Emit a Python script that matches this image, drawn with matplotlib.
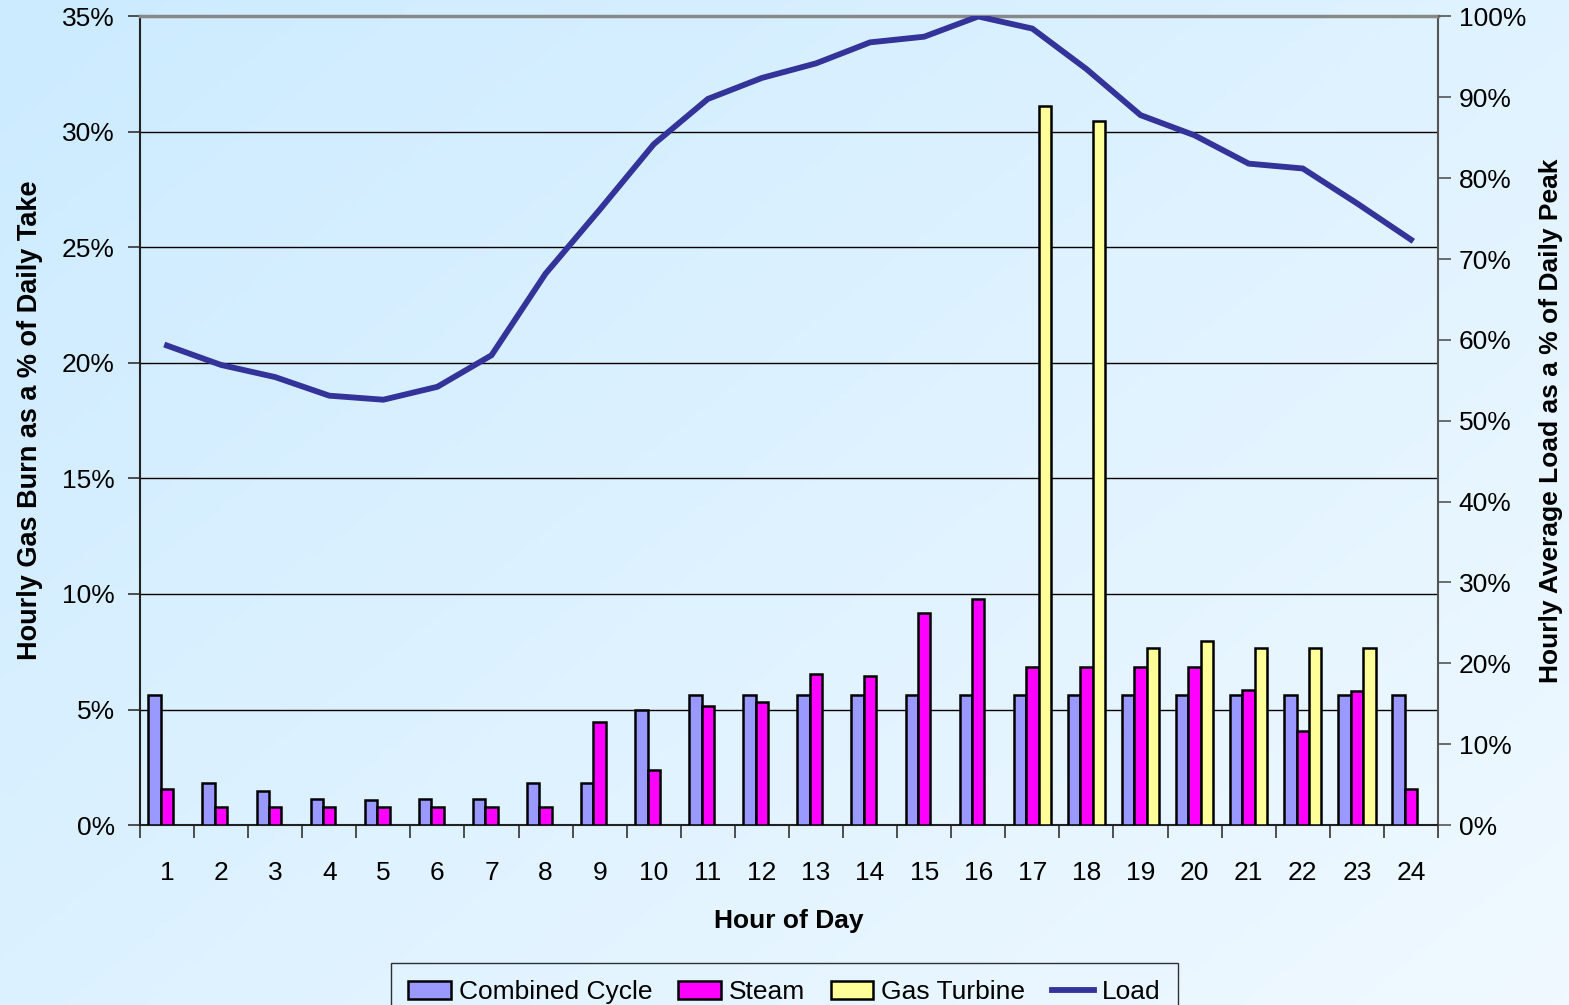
import matplotlib.pyplot as plt
import numpy as np
from matplotlib.colors import LinearSegmentedColormap
from matplotlib.lines import Line2D
from matplotlib.patches import Patch

plt.rcParams["font.family"] = ["Liberation Sans", "DejaVu Sans"]

hours = np.arange(1, 25)
combined_cycle = [5.63, 1.80, 1.47, 1.12, 1.10, 1.12, 1.12, 1.80, 1.80, 5.00, 5.63, 5.63,
                  5.63, 5.63, 5.63, 5.63, 5.63, 5.63, 5.63, 5.63, 5.63, 5.63, 5.63, 5.63]
steam = [1.55, 0.77, 0.77, 0.77, 0.77, 0.77, 0.77, 0.77, 4.44, 2.38, 5.17, 5.31,
         6.55, 6.43, 9.16, 9.77, 6.84, 6.84, 6.84, 6.84, 5.86, 4.07, 5.80, 1.56]
gas_turbine = [0, 0, 0, 0, 0, 0, 0, 0, 0, 0, 0, 0,
               0, 0, 0, 0, 31.13, 30.49, 7.65, 7.97, 7.65, 7.65, 7.65, 0]
load = [59.3, 56.9, 55.4, 53.1, 52.6, 54.2, 58.1, 68.2, 76.1, 84.2, 89.8, 92.4,
        94.2, 96.8, 97.5, 100.0, 98.5, 93.5, 87.8, 85.3, 81.8, 81.2, 76.9, 72.4]

CC_COLOR = "#9999FF"
STEAM_COLOR = "#FF00FF"
GT_COLOR = "#FFFF99"
LOAD_COLOR = "#333399"

fig = plt.figure(figsize=(15.69, 10.05), dpi=100)

# soft blue diagonal backdrop
bg = fig.add_axes([0, 0, 1, 1], zorder=-10)
gx, gy = np.meshgrid(np.linspace(0, 1, 300), np.linspace(0, 1, 200))
grad = (gx * 0.55 + gy * 0.45)
cmap = LinearSegmentedColormap.from_list("bg", ["#CCEBFF", "#F0F9FF"])
bg.imshow(grad, cmap=cmap, aspect="auto", extent=[0, 1, 0, 1], origin="upper")
bg.axis("off")

ax = fig.add_axes([0.0892, 0.1791, 0.8273, 0.8045])
ax.patch.set_alpha(0)

w = 0.23
ax.bar(hours - w, combined_cycle, w, color=CC_COLOR, edgecolor="black", linewidth=1.8, zorder=3)
ax.bar(hours, steam, w, color=STEAM_COLOR, edgecolor="black", linewidth=1.8, zorder=3)
gt_h = [h for h in hours if gas_turbine[h - 1] > 0]
gt_v = [v for v in gas_turbine if v > 0]
ax.bar(np.array(gt_h) + w, gt_v, w, color=GT_COLOR, edgecolor="black", linewidth=1.8, zorder=3)

ax.set_xlim(0.5, 24.5)
ax.set_ylim(0, 35)
ax.set_yticks(np.arange(0, 36, 5))
ax.set_yticklabels([f"{v}%" for v in range(0, 36, 5)], fontsize=19)
ax.set_xticks(np.arange(0.5, 25, 1))
ax.set_xticklabels([])
ax.set_xticks(hours, minor=True)
ax.set_xticklabels([str(h) for h in hours], minor=True, fontsize=19)
ax.tick_params(axis="x", which="major", direction="out", length=9, width=1.2, color="#333333")
ax.tick_params(axis="x", which="minor", length=0, pad=26)
ax.tick_params(axis="y", direction="out", length=9, width=1.2, color="#333333", pad=9)
ax.grid(axis="y", color="black", linewidth=1.0, zorder=1)
ax.set_axisbelow(True)
for s in ("left", "bottom"):
    ax.spines[s].set_color("#222222")
    ax.spines[s].set_linewidth(1.5)
ax.spines["top"].set_color("#888888")
ax.spines["top"].set_linewidth(2.5)
ax.spines["right"].set_color("#555555")
ax.spines["right"].set_linewidth(1.5)

ax.set_xlabel("Hour of Day", fontsize=19, fontweight="bold", labelpad=17)
ax.set_ylabel("Hourly Gas Burn as a % of Daily Take", fontsize=19.5, fontweight="bold")
ax.yaxis.set_label_coords(-0.075, 0.5)

ax2 = ax.twinx()
ax2.plot(hours, load, color=LOAD_COLOR, linewidth=4.2, solid_joinstyle="miter", zorder=5)
ax2.set_ylim(0, 100)
ax2.set_yticks(np.arange(0, 101, 10))
ax2.set_yticklabels([f"{v}%" for v in range(0, 101, 10)], fontsize=19)
ax2.tick_params(axis="y", direction="out", length=9, width=1.2, color="#555555", pad=6)
ax2.set_ylabel("Hourly Average Load as a % of Daily Peak", fontsize=19, fontweight="bold")
ax2.yaxis.set_label_coords(1.078, 0.5)
for s in ax2.spines.values():
    s.set_visible(False)

handles = [
    Patch(facecolor=CC_COLOR, edgecolor="black", linewidth=1.8, label="Combined Cycle"),
    Patch(facecolor=STEAM_COLOR, edgecolor="black", linewidth=1.8, label="Steam"),
    Patch(facecolor=GT_COLOR, edgecolor="black", linewidth=1.8, label="Gas Turbine"),
    Line2D([0], [0], color=LOAD_COLOR, linewidth=4.2, label="Load"),
]
leg = fig.legend(handles=handles, loc="upper center", bbox_to_anchor=(0.5, 0.0418), ncol=4,
                 fontsize=19, frameon=True, fancybox=False, edgecolor="black",
                 handlelength=1.6, handleheight=0.7, handletextpad=0.3, columnspacing=1.0,
                 borderpad=0.65, borderaxespad=0)
leg.get_frame().set_facecolor("none")
leg.get_frame().set_linewidth(1.0)

fig.savefig("out.png", dpi=100)
